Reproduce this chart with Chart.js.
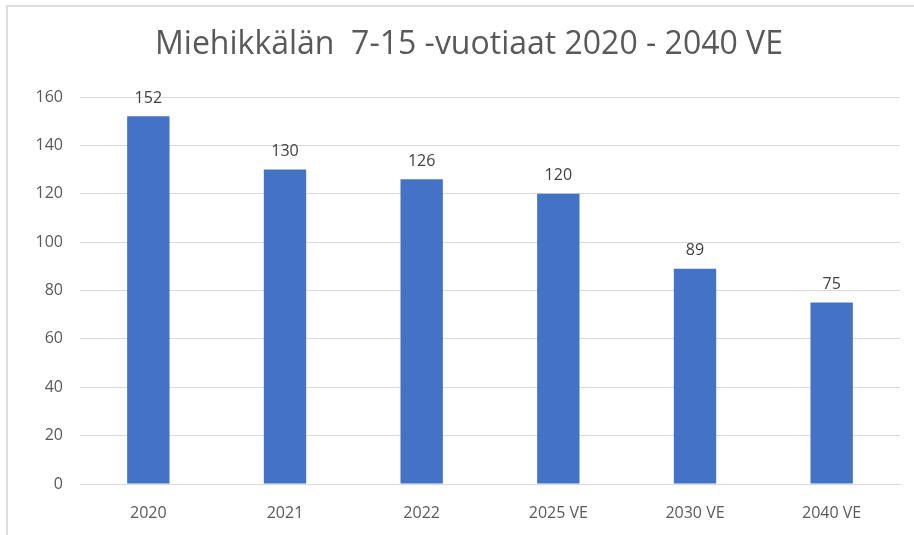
<!DOCTYPE html>
<html>
<head>
<meta charset="utf-8">
<script src="https://cdn.jsdelivr.net/npm/chart.js@4/dist/chart.umd.min.js"></script>
<style>
  html, body { margin: 0; padding: 0; background: #fff; overflow: hidden; width: 914px; height: 535px; }
  #frame { position: absolute; left: 6px; top: 5px; width: 1000px; height: 600px; border-top: 2px solid #dedede; border-left: 2px solid #dedede; box-sizing: border-box; }
  #wrap { position: absolute; left: 0; top: 0; width: 938px; height: 535px; }
</style>
</head>
<body>
<div id="frame"></div>
<div id="wrap"><canvas id="c" width="938" height="535"></canvas></div>
<script>
const titleText = 'Miehikkälän  7-15 -vuotiaat 2020 - 2040 VE';
const categories = ['2020', '2021', '2022', '2025 VE', '2030 VE', '2040 VE'];
const values = [152, 130, 126, 120, 89, 75];
const yTicks = [0, 20, 40, 60, 80, 100, 120, 140, 160];

const FONT = '"Open Sans", "Noto Sans", sans-serif';

const dataLabels = {
  id: 'dataLabels',
  afterDatasetsDraw(chart) {
    const ctx = chart.ctx;
    const meta = chart.getDatasetMeta(0);
    ctx.save();
    ctx.font = '16px ' + FONT;
    ctx.fillStyle = '#404040';
    ctx.textAlign = 'center';
    ctx.textBaseline = 'bottom';
    meta.data.forEach((bar, i) => {
      ctx.fillText(String(values[i]), bar.x, bar.y - 10);
    });
    ctx.restore();
  }
};

new Chart(document.getElementById('c'), {
  type: 'bar',
  data: {
    labels: categories,
    datasets: [{
      data: values,
      yAxisID: 'y',
      backgroundColor: '#4472C4',
      borderWidth: 0,
      barPercentage: 0.31,
      categoryPercentage: 1.0
    }]
  },
  options: {
    responsive: false,
    animation: false,
    layout: { padding: 0 },
    plugins: {
      legend: { display: false },
      tooltip: { enabled: false },
      title: {
        display: true,
        text: titleText,
        color: '#595959',
        font: { family: FONT, size: 32, weight: 'normal', lineHeight: 1.2 },
        padding: { top: 26, bottom: 32.6 }
      }
    },
    scales: {
      x: {
        grid: { display: false, drawTicks: false },
        border: { display: true, color: '#d9d9d9', width: 1 },
        ticks: { color: '#595959', font: { family: FONT, size: 16 }, padding: 20, maxRotation: 0 },
        afterFit(scale) { scale.height = 51; }
      },
      y: {
        min: 0,
        max: 160,
        afterBuildTicks(scale) { scale.ticks = yTicks.map(v => ({ value: v })); },
        grid: { color: '#d9d9d9', lineWidth: 1, drawTicks: false },
        border: { display: false },
        ticks: { color: '#595959', font: { family: FONT, size: 16 }, padding: 17 },
        afterFit(scale) { scale.width = 80; }
      },
      yRight: {
        position: 'right',
        min: 0,
        max: 160,
        grid: { display: false, drawTicks: false },
        border: { display: false },
        ticks: { display: false },
        afterFit(scale) { scale.width = 38; }
      }
    }
  },
  plugins: [dataLabels]
});
</script>
</body>
</html>
